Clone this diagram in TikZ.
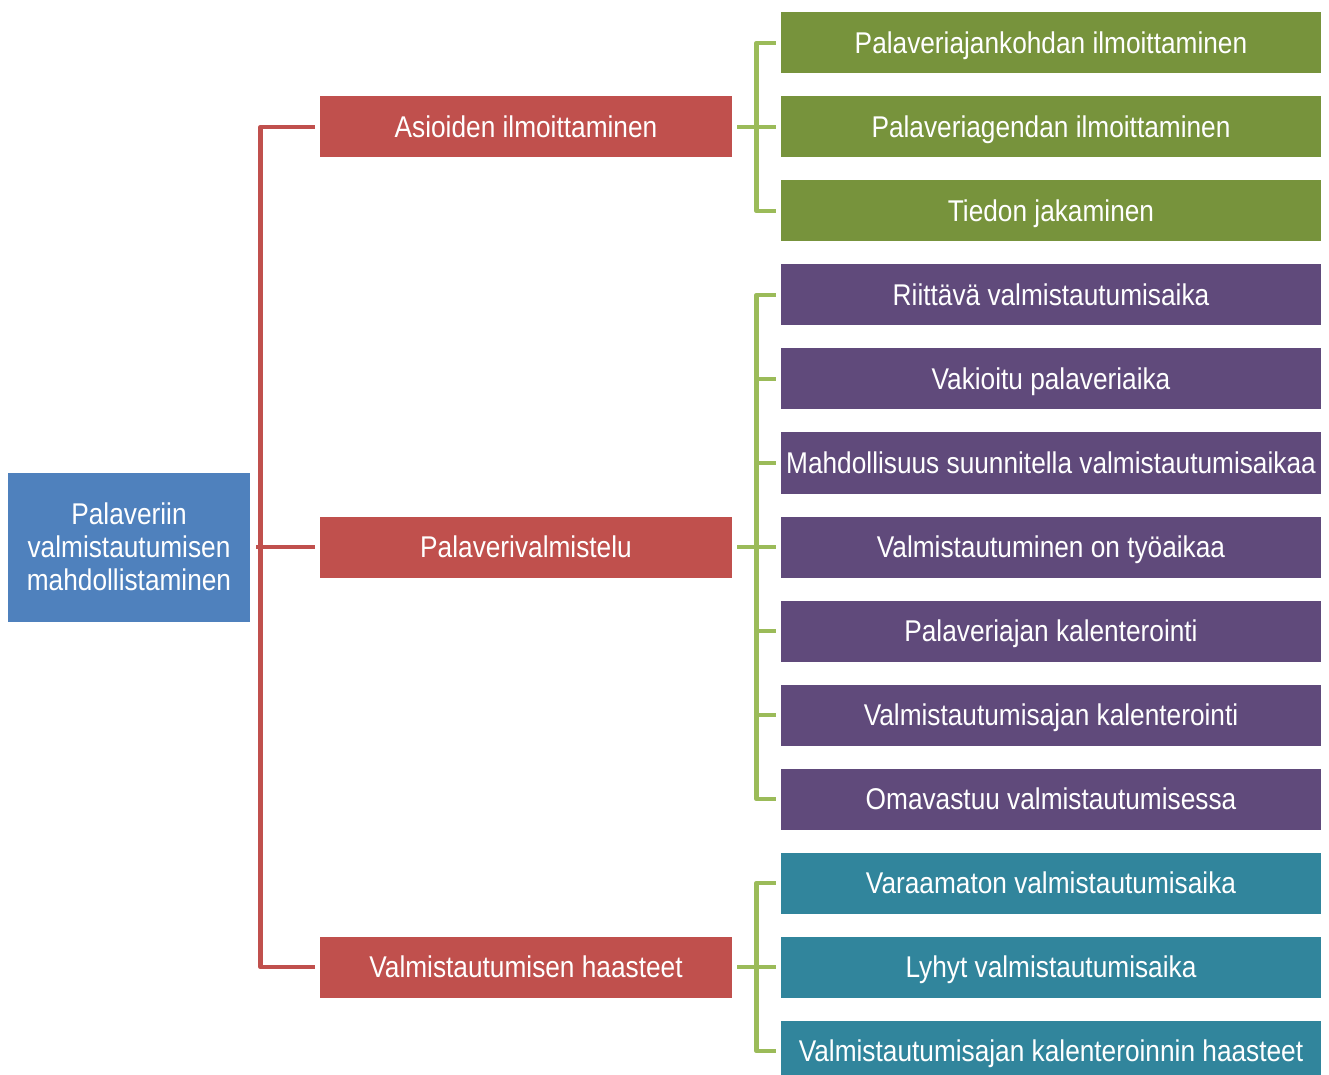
\documentclass[tikz,border=0pt]{standalone}
\usepackage{fontspec}
\setmainfont[FakeStretch=0.875]{Liberation Sans}
\definecolor{rootblue}{HTML}{4F81BD}
\definecolor{boxred}{HTML}{C0504D}
\definecolor{boxgreen}{HTML}{77933C}
\definecolor{boxpurple}{HTML}{604A7B}
\definecolor{boxteal}{HTML}{31859C}
\definecolor{linegreen}{HTML}{9BBB59}
\tikzset{
    box/.style={rectangle, text=white, inner sep=0pt, align=center,
        text height=10.8pt, text depth=0pt,
        font=\fontsize{15}{16.5}\selectfont},
    rootbox/.style={box, fill=rootblue, text height=, text depth=,
        minimum width=121pt, minimum height=74.5pt},
    midbox/.style={box, fill=boxred, minimum width=206pt, minimum height=30.5pt},
    leafbox/.style={box, minimum width=270pt, minimum height=30.5pt},
    redline/.style={draw=boxred, line width=2.3pt, line join=round},
    greenline/.style={draw=linegreen, line width=2.3pt, line join=round}
}

\begin{document}
\begin{tikzpicture}[x=0.5pt, y=-0.5pt]
    \clip (0,0) rectangle (1329,1075);

    \node[rootbox] (root) at (129,547) {Palaveriin\\valmistautumisen\\mahdollistaminen};

    \node[midbox] (ilmo) at (526,127) {Asioiden ilmoittaminen};
    \node[midbox] (valm) at (526,547) {Palaverivalmistelu};
    \node[midbox] (haas) at (526,967) {Valmistautumisen haasteet};

    \node[leafbox, fill=boxgreen] (g1) at (1051,43) {Palaveriajankohdan ilmoittaminen};
    \node[leafbox, fill=boxgreen] (g2) at (1051,127) {Palaveriagendan ilmoittaminen};
    \node[leafbox, fill=boxgreen] (g3) at (1051,211) {Tiedon jakaminen};

    \node[leafbox, fill=boxpurple] (p1) at (1051,295) {Riittävä valmistautumisaika};
    \node[leafbox, fill=boxpurple] (p2) at (1051,379) {Vakioitu palaveriaika};
    \node[leafbox, fill=boxpurple] (p3) at (1051,463) {Mahdollisuus suunnitella valmistautumisaikaa};
    \node[leafbox, fill=boxpurple] (p4) at (1051,547) {Valmistautuminen on työaikaa};
    \node[leafbox, fill=boxpurple] (p5) at (1051,631) {Palaveriajan kalenterointi};
    \node[leafbox, fill=boxpurple] (p6) at (1051,715) {Valmistautumisajan kalenterointi};
    \node[leafbox, fill=boxpurple] (p7) at (1051,799) {Omavastuu valmistautumisessa};

    \node[leafbox, fill=boxteal] (t1) at (1051,883) {Varaamaton valmistautumisaika};
    \node[leafbox, fill=boxteal] (t2) at (1051,967) {Lyhyt valmistautumisaika};
    \node[leafbox, fill=boxteal] (t3) at (1051,1051) {Valmistautumisajan kalenteroinnin haasteet};

    % root bracket
    \draw[redline] ([xshift=-2.5pt]ilmo.west) -| ([xshift=-29.5pt]haas.west) -- ([xshift=-2.5pt]haas.west);
    \draw[redline] ([xshift=3pt]root.east) -- ([xshift=-2.5pt]valm.west);

    % first group
    \draw[greenline] ([xshift=-2.5pt]g1.west) -| ([xshift=-12pt]g3.west) -- ([xshift=-2.5pt]g3.west);
    \draw[greenline] ([xshift=2.5pt]ilmo.east) -- ([xshift=-2.5pt]g2.west);

    % second group
    \draw[greenline] ([xshift=-2.5pt]p1.west) -| ([xshift=-12pt]p7.west) -- ([xshift=-2.5pt]p7.west);
    \draw[greenline] ([xshift=-2.5pt]p2.west) -- ++(-19,0);
    \draw[greenline] ([xshift=-2.5pt]p3.west) -- ++(-19,0);
    \draw[greenline] ([xshift=-2.5pt]p5.west) -- ++(-19,0);
    \draw[greenline] ([xshift=-2.5pt]p6.west) -- ++(-19,0);
    \draw[greenline] ([xshift=2.5pt]valm.east) -- ([xshift=-2.5pt]p4.west);

    % third group
    \draw[greenline] ([xshift=-2.5pt]t1.west) -| ([xshift=-12pt]t3.west) -- ([xshift=-2.5pt]t3.west);
    \draw[greenline] ([xshift=2.5pt]haas.east) -- ([xshift=-2.5pt]t2.west);
\end{tikzpicture}
\end{document}
